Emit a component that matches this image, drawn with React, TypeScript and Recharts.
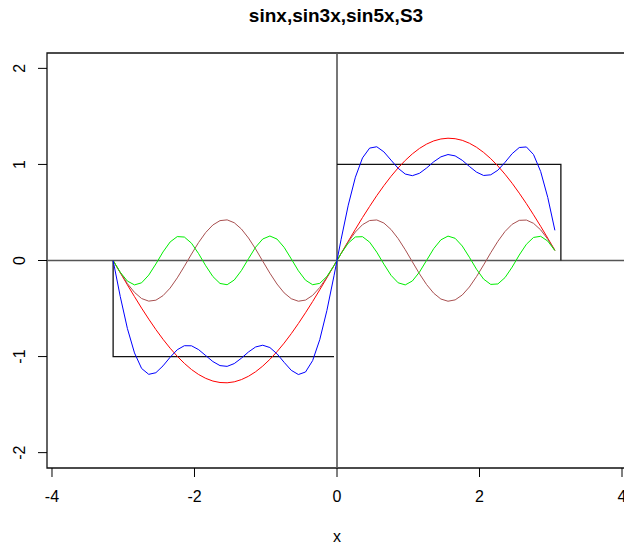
import React from "react";
import { LineChart, Line, XAxis, YAxis, ReferenceLine, ReferenceArea } from "recharts";

const xs = [
  -3.142, -3.042, -2.942, -2.842, -2.742, -2.642, -2.542, -2.442, -2.342, -2.242,
  -2.142, -2.042, -1.942, -1.842, -1.742, -1.642, -1.542, -1.442, -1.342, -1.242,
  -1.142, -1.042, -0.942, -0.842, -0.742, -0.642, -0.542, -0.442, -0.342, -0.242,
  -0.142, -0.042, 0.058, 0.158, 0.258, 0.358, 0.458, 0.558, 0.658, 0.758,
  0.858, 0.958, 1.058, 1.158, 1.258, 1.358, 1.458, 1.558, 1.658, 1.758,
  1.858, 1.958, 2.058, 2.158, 2.258, 2.358, 2.458, 2.558, 2.658, 2.758,
  2.858, 2.958, 3.058,
];

const sinx = [
  0, -0.127, -0.253, -0.376, -0.496, -0.61, -0.719, -0.82, -0.913, -0.997,
  -1.071, -1.135, -1.187, -1.227, -1.255, -1.27, -1.273, -1.263, -1.24, -1.205,
  -1.158, -1.099, -1.029, -0.949, -0.86, -0.762, -0.656, -0.544, -0.427, -0.305,
  -0.18, -0.053, 0.074, 0.201, 0.325, 0.447, 0.563, 0.675, 0.779, 0.876,
  0.964, 1.042, 1.11, 1.167, 1.212, 1.245, 1.265, 1.273, 1.268, 1.251,
  1.221, 1.179, 1.125, 1.06, 0.984, 0.898, 0.804, 0.701, 0.592, 0.476,
  0.356, 0.232, 0.106,
];

const sin3x = [
  0, -0.125, -0.24, -0.332, -0.396, -0.423, -0.413, -0.366, -0.287, -0.181,
  -0.06, 0.067, 0.188, 0.292, 0.37, 0.415, 0.423, 0.393, 0.328, 0.234,
  0.119, -0.007, -0.132, -0.245, -0.337, -0.398, -0.424, -0.412, -0.363, -0.281,
  -0.175, -0.053, 0.074, 0.194, 0.297, 0.373, 0.416, 0.422, 0.39, 0.323,
  0.228, 0.112, -0.014, -0.139, -0.251, -0.341, -0.401, -0.424, -0.41, -0.359,
  -0.276, -0.168, -0.046, 0.081, 0.2, 0.302, 0.377, 0.418, 0.421, 0.387,
  0.319, 0.222, 0.105,
];

const sin5x = [
  0, -0.122, -0.214, -0.254, -0.232, -0.152, -0.036, 0.089, 0.193, 0.249,
  0.244, 0.18, 0.071, -0.055, -0.167, -0.239, -0.252, -0.203, -0.105, 0.019,
  0.139, 0.224, 0.255, 0.223, 0.137, 0.017, -0.107, -0.205, -0.252, -0.238,
  -0.166, -0.053, 0.073, 0.181, 0.245, 0.248, 0.191, 0.087, -0.038, -0.154,
  -0.232, -0.254, -0.213, -0.12, 0.002, 0.124, 0.215, 0.254, 0.231, 0.151,
  0.034, -0.091, -0.194, -0.249, -0.244, -0.178, -0.069, 0.057, 0.169, 0.24,
  0.252, 0.202, 0.103,
];

const s3 = [
  0, -0.374, -0.707, -0.962, -1.124, -1.185, -1.168, -1.097, -1.007, -0.929,
  -0.887, -0.888, -0.928, -0.99, -1.052, -1.094, -1.102, -1.073, -1.017, -0.952,
  -0.9, -0.882, -0.906, -0.971, -1.06, -1.143, -1.187, -1.161, -1.042, -0.824,
  -0.521, -0.159, 0.221, 0.576, 0.867, 1.068, 1.17, 1.184, 1.131, 1.045,
  0.96, 0.9, 0.883, 0.908, 0.963, 1.028, 1.079, 1.103, 1.089, 1.043,
  0.979, 0.92, 0.885, 0.892, 0.94, 1.022, 1.112, 1.176, 1.182, 1.103,
  0.927, 0.656, 0.314,
];

const squareLowX = [-3.142, -3.142, -0.042];
const squareLowY = [0, -1, -1];
const squareHighX = [0, 3.142, 3.142];
const squareHighY = [1, 1, 0];

const xTicks = [-4, -2, 0, 2, 4];
const yTicks = [-2, -1, 0, 1, 2];
const xDomain = [-4.07, 4.07];
const yDomain = [-2.16, 2.16];

const title = "sinx,sin3x,sin5x,S3";
const xLabel = "x";

const data = xs.map((x, i) => ({ x, sinx: sinx[i], sin3x: sin3x[i], sin5x: sin5x[i], s3: s3[i] }));
const sqLow = squareLowX.map((x, i) => ({ x, y: squareLowY[i] }));
const sqHigh = squareHighX.map((x, i) => ({ x, y: squareHighY[i] }));

const FONT = "'Liberation Sans', Arial, sans-serif";

const XTick = (props: any) => {
  const { x, y, payload } = props;
  return (
    <text x={x} y={y} dy={23} textAnchor="middle" fontSize={16} fontFamily={FONT} fill="#000">
      {payload.value}
    </text>
  );
};

const YTick = (props: any) => {
  const { x, y, payload } = props;
  const bx = x - 11;
  return (
    <text
      x={bx}
      y={y}
      textAnchor="middle"
      fontSize={16}
      fontFamily={FONT}
      fill="#000"
      transform={`rotate(-90, ${bx}, ${y})`}
    >
      {payload.value}
    </text>
  );
};

export default function App() {
  return (
    <div style={{ position: "absolute", left: 0, top: 0, width: 624, height: 546, overflow: "hidden", background: "#fff" }}>
      <LineChart width={640} height={546} data={data} margin={{ top: 53, right: 13, bottom: 38, left: 0 }}>
        <XAxis
          dataKey="x"
          type="number"
          domain={xDomain}
          ticks={xTicks}
          allowDataOverflow
          axisLine={false}
          tickSize={9}
          tickLine={{ stroke: "#000" }}
          tick={<XTick />}
          height={40}
        />
        <YAxis
          type="number"
          domain={yDomain}
          ticks={yTicks}
          allowDataOverflow
          axisLine={false}
          tickSize={9}
          tickLine={{ stroke: "#000" }}
          tick={<YTick />}
          width={47}
        />
        <ReferenceArea
          x1={xDomain[0]}
          x2={xDomain[1]}
          y1={yDomain[0]}
          y2={yDomain[1]}
          fill="none"
          fillOpacity={0}
          stroke="#111"
          strokeWidth={1.3}
        />
        <ReferenceLine y={0} stroke="#555" strokeWidth={1.6} />
        <ReferenceLine x={0} stroke="#555" strokeWidth={1.6} />
        <Line data={sqLow} dataKey="y" type="linear" stroke="#111" strokeWidth={1.3} dot={false} isAnimationActive={false} />
        <Line data={sqHigh} dataKey="y" type="linear" stroke="#111" strokeWidth={1.3} dot={false} isAnimationActive={false} />
        <Line dataKey="sinx" type="linear" stroke="#ff0000" strokeWidth={1} dot={false} isAnimationActive={false} />
        <Line dataKey="sin3x" type="linear" stroke="#a85050" strokeWidth={1} dot={false} isAnimationActive={false} />
        <Line dataKey="sin5x" type="linear" stroke="#00ee00" strokeWidth={1} dot={false} isAnimationActive={false} />
        <Line dataKey="s3" type="linear" stroke="#0000ff" strokeWidth={1} dot={false} isAnimationActive={false} />
      </LineChart>
      <svg width={624} height={546} style={{ position: "absolute", left: 0, top: 0, pointerEvents: "none" }}>
        <text x={336} y={22} textAnchor="middle" fontSize={19} fontWeight="bold" fontFamily={FONT} fill="#000">
          {title}
        </text>
        <text x={337} y={542} textAnchor="middle" fontSize={16} fontFamily={FONT} fill="#000">
          {xLabel}
        </text>
      </svg>
    </div>
  );
}
